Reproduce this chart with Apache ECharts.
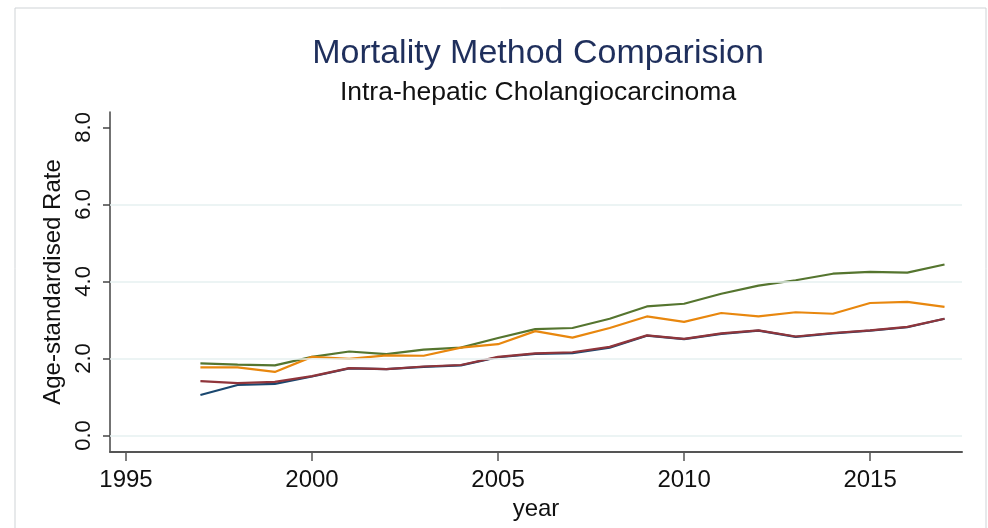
<!DOCTYPE html>
<html>
<head>
    <meta charset="utf-8">
    <title>Mortality Method Comparision</title>
    <script src="https://cdn.jsdelivr.net/npm/echarts@6/dist/echarts.min.js"></script>
    <style>
        html, body { margin: 0; padding: 0; background: #fff; }
    </style>
</head>
<body>
    <div id="main" style="width: 988px; height: 528px;"></div>
    <script>
        // data
        var years = [1997, 1998, 1999, 2000, 2001, 2002, 2003, 2004, 2005, 2006, 2007,
                     2008, 2009, 2010, 2011, 2012, 2013, 2014, 2015, 2016, 2017];
        var blueRate   = [1.05, 1.31, 1.34, 1.53, 1.74, 1.72, 1.78, 1.82, 2.03, 2.12, 2.14,
                          2.28, 2.59, 2.50, 2.64, 2.72, 2.56, 2.65, 2.72, 2.81, 3.03];
        var redRate    = [1.41, 1.36, 1.39, 1.54, 1.75, 1.72, 1.79, 1.83, 2.04, 2.13, 2.16,
                          2.30, 2.60, 2.51, 2.65, 2.73, 2.57, 2.66, 2.73, 2.82, 3.03];
        var greenRate  = [1.87, 1.84, 1.82, 2.04, 2.18, 2.11, 2.23, 2.28, 2.53, 2.76, 2.79,
                          3.03, 3.35, 3.42, 3.68, 3.89, 4.03, 4.20, 4.25, 4.23, 4.44];
        var orangeRate = [1.77, 1.77, 1.65, 2.04, 1.99, 2.08, 2.07, 2.28, 2.37, 2.71, 2.54,
                          2.79, 3.09, 2.95, 3.18, 3.09, 3.20, 3.16, 3.44, 3.47, 3.34];
        var xTicks = [1995, 2000, 2005, 2010, 2015];
        var yTicks = [0, 2, 4, 6, 8];
        var yGrid = [0, 2, 4, 6];

        var font = 'Liberation Sans, Arial, sans-serif';

        function pairs(vals) {
            return years.map(function (y, i) { return [y, vals[i]]; });
        }

        function lineSeries(name, vals, color) {
            return {
                name: name,
                type: 'line',
                data: pairs(vals),
                symbol: 'none',
                lineStyle: { color: color, width: 2.2 },
                z: 3
            };
        }

        var chart = echarts.init(document.getElementById('main'));

        var option = {
            animation: false,
            backgroundColor: '#fff',
            title: [
                {
                    text: 'Mortality Method Comparision',
                    left: 533, top: 32,
                    textAlign: 'center',
                    textStyle: { fontFamily: font, fontSize: 34, fontWeight: 'normal', color: '#1f2f5c' }
                },
                {
                    text: 'Intra-hepatic Cholangiocarcinoma',
                    left: 533, top: 74,
                    textAlign: 'center',
                    textStyle: { fontFamily: font, fontSize: 26.5, fontWeight: 'normal', color: '#111' }
                }
            ],
            grid: { left: 110, right: 26, top: 112, bottom: 76 },
            xAxis: {
                type: 'value',
                min: 1994.57,
                max: 2017.47,
                name: 'year',
                nameLocation: 'middle',
                nameGap: 39,
                nameTextStyle: { fontFamily: font, fontSize: 24, color: '#111' },
                axisLine: { onZero: false, lineStyle: { color: '#555', width: 2 } },
                axisTick: { show: true, inside: false, customValues: xTicks, length: 9, lineStyle: { color: '#555', width: 1.5 } },
                axisLabel: {
                    customValues: xTicks, margin: 16, fontFamily: font, fontSize: 24, color: '#111',
                    formatter: function (v) { return String(v); }
                },
                splitLine: { show: false }
            },
            yAxis: {
                type: 'value',
                min: -0.43,
                max: 8.4,
                name: 'Age-standardised Rate',
                nameLocation: 'middle',
                nameGap: 44,
                nameRotate: 90,
                nameTextStyle: { fontFamily: font, fontSize: 24, color: '#111' },
                axisLine: { show: true, onZero: false, lineStyle: { color: '#444', width: 1.5 } },
                axisTick: { show: true, inside: false, customValues: yTicks, length: 7, lineStyle: { color: '#444', width: 1.5 } },
                axisLabel: {
                    customValues: yTicks,
                    rotate: 90,
                    margin: 15,
                    fontFamily: font, fontSize: 22, color: '#111',
                    formatter: function (v) { return v.toFixed(1); }
                },
                splitLine: { show: false }
            },
            graphic: [
                {
                    type: 'rect',
                    shape: { x: 15, y: 8, width: 971, height: 540 },
                    style: { fill: 'none', stroke: '#cfd3d6', lineWidth: 1 },
                    silent: true
                }
            ],
            series: [
                {
                    name: 'grid',
                    type: 'line',
                    data: [],
                    z: 1,
                    markLine: {
                        silent: true,
                        symbol: 'none',
                        label: { show: false },
                        lineStyle: { color: '#e6f0f1', width: 1.5, type: 'solid' },
                        data: yGrid.map(function (v) { return { yAxis: v }; })
                    }
                },
                lineSeries('navy', blueRate, '#1a476f'),
                lineSeries('maroon', redRate, '#90353b'),
                lineSeries('green', greenRate, '#55752f'),
                lineSeries('orange', orangeRate, '#e8870e')
            ]
        };

        chart.setOption(option);
    </script>
</body>
</html>
